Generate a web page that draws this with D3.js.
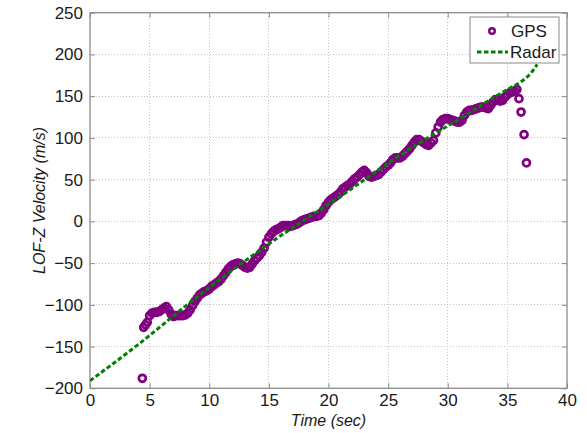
<!DOCTYPE html>
<html>
<head>
<meta charset="utf-8">
<script src="https://cdn.jsdelivr.net/npm/d3@7"></script>
<style>
  html, body { margin: 0; padding: 0; background: #fff; }
  svg { display: block; }
  text { font-family: "Liberation Sans", Arial, Helvetica, sans-serif; fill: #1a1a1a; }
</style>
</head>
<body>
<svg id="chart" width="587" height="433"></svg>
<script>
// ---------- data ----------
const xTicks = [0, 5, 10, 15, 20, 25, 30, 35, 40];
const yTicks = [-200, -150, -100, -50, 0, 50, 100, 150, 200, 250];
const seriesNames = ["GPS", "Radar"];

// GPS: [time (s), velocity (m/s)]
const gps = [
  [4.39,-188],[4.5,-127],[4.65,-124],[4.8,-121],[5.0,-113],[5.2,-110],[5.4,-109],[5.6,-109],[5.8,-108],
  [6.0,-106],[6.2,-104],[6.4,-102],[6.6,-106],[6.8,-111],[7.0,-114],[7.2,-113],[7.4,-113],[7.6,-113],
  [7.8,-113],[8.0,-112],[8.2,-110],[8.4,-106],[8.6,-101],[8.8,-96],[9.0,-92],[9.2,-88],[9.4,-86],
  [9.6,-84],[9.8,-83],[10.0,-81],[10.2,-78],[10.4,-76],[10.6,-74],[10.8,-72],[11.0,-69],[11.2,-65],
  [11.4,-61],[11.6,-57],[11.8,-54],[12.0,-52],[12.2,-51],[12.4,-50],[12.6,-51],[12.8,-53],[13.0,-55],
  [13.2,-56],[13.4,-55],[13.6,-51],[13.8,-47],[14.0,-44],[14.2,-41],[14.4,-37],[14.6,-32],[14.8,-25],
  [15.0,-19],[15.2,-15],[15.4,-12],[15.6,-10],[15.8,-9],[16.0,-7],[16.2,-5],[16.4,-5],[16.6,-5],
  [16.8,-6],[17.0,-5],[17.2,-4],[17.4,-3],[17.6,-1],[17.8,1],[18.0,2],[18.2,3],[18.4,4],[18.6,5],
  [18.8,6],[19.0,6],[19.2,7],[19.4,10],[19.6,14],[19.8,19],[20.0,23],[20.2,26],[20.4,28],[20.6,30],
  [20.8,32],[21.0,35],[21.2,39],[21.4,41],[21.6,43],[21.8,45],[22.0,48],[22.2,51],[22.4,53],[22.6,56],
  [22.8,59],[23.0,61],[23.2,58],[23.4,54],[23.6,53],[23.8,54],[24.0,55],[24.2,56],[24.4,59],[24.6,62],
  [24.8,65],[25.0,67],[25.2,70],[25.4,74],[25.6,76],[25.8,76],[26.0,76],[26.2,78],[26.4,81],[26.6,84],
  [26.8,87],[27.0,91],[27.2,95],[27.4,98],[27.6,98],[27.8,96],[28.0,94],[28.2,92],[28.4,91],[28.6,94],
  [28.8,97],[29.0,106],[29.2,113],[29.4,119],[29.6,122],[29.8,123],[30.0,123],[30.2,122],[30.4,121],
  [30.6,120],[30.8,119],[31.0,119],[31.2,121],[31.4,127],[31.6,131],[31.8,133],[32.0,133],[32.2,134],
  [32.4,135],[32.6,136],[32.8,137],[33.0,137],[33.2,136],[33.4,135],[33.6,139],[33.8,143],[34.0,146],
  [34.2,146],[34.4,144],[34.6,145],[34.8,149],[35.0,152],[35.2,154],[35.4,155],[35.6,156],[35.8,158],
  [35.97,147],[36.15,131],[36.4,104],[36.6,70]
];

// Radar: [time (s), velocity (m/s)]
const radar = [
  [0,-191],[4,-148],[9.2,-88],[15.5,-22],[21,30],[26.4,83],[31,123],[35,158],
  [36,166],[36.5,171],[37,178],[37.5,188]
];

// ---------- layout ----------
const svg = d3.select("#chart");
const L = 90, R = 567, T = 12.7, B = 388.3;
const x = d3.scaleLinear().domain([0, 40]).range([L, R]);
const y = d3.scaleLinear().domain([-200, 250]).range([B, T]);

const gpsColor = "#800080", radarColor = "#008000", axisColor = "#8a8a8a";

svg.append("defs").append("clipPath").attr("id", "clip")
  .append("rect").attr("x", L).attr("y", T).attr("width", R - L).attr("height", B - T);

// grid
const grid = svg.append("g").attr("stroke", "#c4c4c4").attr("stroke-width", 1)
  .attr("stroke-dasharray", "1,2").attr("shape-rendering", "crispEdges");
xTicks.slice(1, -1).forEach(t => grid.append("line")
  .attr("x1", x(t)).attr("x2", x(t)).attr("y1", T).attr("y2", B));
yTicks.slice(1, -1).forEach(t => grid.append("line")
  .attr("x1", L).attr("x2", R).attr("y1", y(t)).attr("y2", y(t)));

// axes (ticks inward, on all four sides)
const tl = 5;
svg.append("g").attr("transform", `translate(0,${B})`)
  .call(d3.axisBottom(x).tickValues(xTicks).tickSize(-tl).tickPadding(6).tickFormat(d3.format("d")))
  .call(g => g.select(".domain").remove());
svg.append("g").attr("transform", `translate(0,${T})`)
  .call(d3.axisTop(x).tickValues(xTicks).tickSize(-tl).tickFormat(""))
  .call(g => g.select(".domain").remove());
svg.append("g").attr("transform", `translate(${L},0)`)
  .call(d3.axisLeft(y).tickValues(yTicks).tickSize(-tl).tickPadding(7).tickFormat(d3.format("d")))
  .call(g => g.select(".domain").remove());
svg.append("g").attr("transform", `translate(${R},0)`)
  .call(d3.axisRight(y).tickValues(yTicks).tickSize(-tl).tickFormat(""))
  .call(g => g.select(".domain").remove());

svg.selectAll(".tick line").attr("stroke", axisColor);
svg.selectAll(".tick text").style("font-size", "17px").attr("fill", "#1a1a1a");

// frame
svg.append("rect").attr("x", L).attr("y", T).attr("width", R - L).attr("height", B - T)
  .attr("fill", "none").attr("stroke", axisColor).attr("stroke-width", 1.3);

// GPS points
const plot = svg.append("g").attr("clip-path", "url(#clip)");
plot.selectAll("circle.gps").data(gps).enter().append("circle")
  .attr("class", "gps")
  .attr("cx", d => x(d[0])).attr("cy", d => y(d[1])).attr("r", 3.5)
  .attr("fill", "none").attr("stroke", gpsColor).attr("stroke-width", 2.7);

// Radar line
plot.append("path").datum(radar)
  .attr("d", d3.line().x(d => x(d[0])).y(d => y(d[1])).curve(d3.curveMonotoneX))
  .attr("fill", "none").attr("stroke", radarColor).attr("stroke-width", 3)
  .attr("stroke-dasharray", "4.5,2.5");

// axis labels
svg.append("text").attr("x", (L + R) / 2).attr("y", 426).attr("text-anchor", "middle")
  .style("font-size", "16px").style("font-style", "italic").text("Time (sec)");
svg.append("text").attr("transform", `translate(45,${(T + B) / 2}) rotate(-90)`)
  .attr("text-anchor", "middle").style("font-size", "16px").style("font-style", "italic")
  .text("LOF-Z Velocity (m/s)");

// legend
const lg = svg.append("g");
lg.append("rect").attr("x", 470).attr("y", 17).attr("width", 89).attr("height", 46)
  .attr("fill", "#fff").attr("stroke", "#8a8a8a").attr("stroke-width", 1);
lg.append("circle").attr("cx", 492).attr("cy", 31).attr("r", 2.8)
  .attr("fill", "none").attr("stroke", gpsColor).attr("stroke-width", 2.4);
lg.append("text").attr("x", 511).attr("y", 37).style("font-size", "17px").text(seriesNames[0]);
lg.append("line").attr("x1", 477).attr("x2", 508).attr("y1", 52).attr("y2", 52)
  .attr("stroke", radarColor).attr("stroke-width", 3).attr("stroke-dasharray", "4.5,2.5");
lg.append("text").attr("x", 510).attr("y", 58).style("font-size", "17px").text(seriesNames[1]);
</script>
</body>
</html>
